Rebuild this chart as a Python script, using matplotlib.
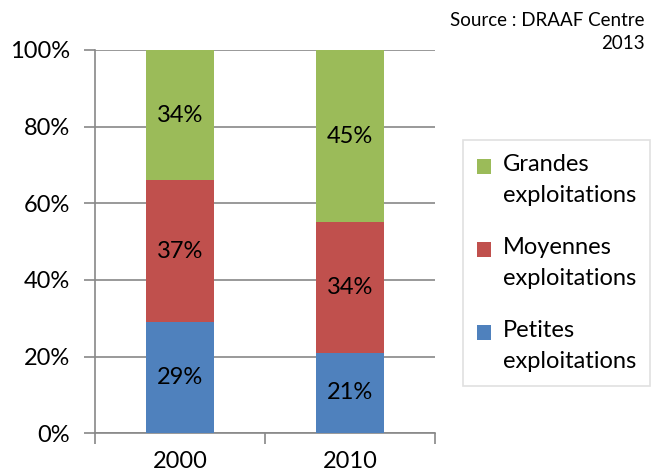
import numpy as np
import matplotlib.pyplot as plt
from matplotlib.patches import Rectangle
from matplotlib.legend_handler import HandlerPatch

plt.rcParams['font.family'] = ['Lato', 'DejaVu Sans']

# data
years = ['2000', '2010']
petites = [29, 21]
moyennes = [37, 34]
grandes = [34, 45]
series = [('Petites\nexploitations', petites, '#4F81BD'),
          ('Moyennes\nexploitations', moyennes, '#C0504D'),
          ('Grandes\nexploitations', grandes, '#9BBB59')]

fig = plt.figure(figsize=(6.51, 4.76), dpi=100)
ax = fig.add_axes([0.146, 0.090, 0.522, 0.805])

x = np.arange(len(years))
bottom = np.zeros(len(years))
handles = []
names = []
for name, vals, col in series:
    b = ax.bar(x, vals, 0.4, bottom=bottom, color=col, zorder=3)
    handles.append(b[0])
    names.append(name)
    for xi, v, b0 in zip(x, vals, bottom):
        ax.text(xi, b0 + v / 2, f'{v}%', ha='center', va='center',
                fontsize=17, zorder=4)
    bottom += np.array(vals)

ax.set_xlim(-0.5, 1.5)
ax.set_ylim(0, 100)
ax.set_yticks(np.arange(0, 101, 20))
ax.set_yticklabels([f'{v}%' for v in range(0, 101, 20)], fontsize=17)
ax.set_xticks(x)
ax.set_xticklabels(years, fontsize=17)
ax.set_xticks([-0.5, 0.5, 1.5], minor=True)
ax.tick_params(axis='x', which='major', length=0, pad=13)
ax.tick_params(axis='x', which='minor', length=8, color='#888888', width=1.2)
ax.tick_params(axis='y', length=8, color='#888888', width=1.2, pad=10)
ax.grid(axis='y', color='#888888', linewidth=1.2, zorder=0)
for s in ['top', 'right']:
    ax.spines[s].set_visible(False)
for s in ['left', 'bottom']:
    ax.spines[s].set_color('#888888')
    ax.spines[s].set_linewidth(1.2)


# legend square sits on the first line of the label
def top_square(legend, orig_handle, xdescent, ydescent, width, height, fontsize):
    return Rectangle((-xdescent, -ydescent + 0.6 * fontsize), width, height)


leg = fig.legend(handles[::-1], names[::-1],
                 loc='upper left', bbox_to_anchor=(0.711, 0.706),
                 borderaxespad=0,
                 handler_map={Rectangle: HandlerPatch(patch_func=top_square)},
                 fontsize=17, frameon=True, fancybox=False, edgecolor='#d9d9d9',
                 handlelength=0.6, handleheight=0.6, handletextpad=0.5,
                 labelspacing=1.3, borderpad=0.6)
leg.get_frame().set_linewidth(1.2)
for t in leg.get_texts():
    t.set_linespacing(1.6)

fig.text(0.99, 0.975, 'Source : DRAAF Centre\n2013', ha='right', va='top',
         fontsize=13.5, linespacing=1.45)

fig.savefig('out.png', dpi=100)
